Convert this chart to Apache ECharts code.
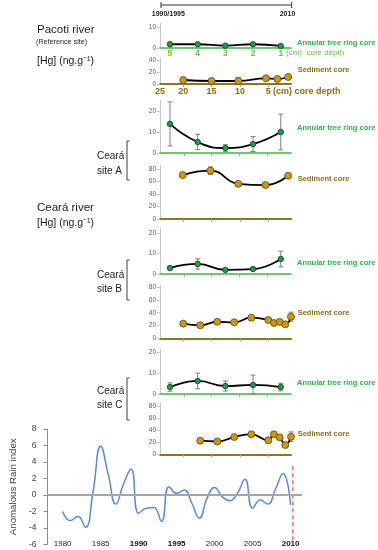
<!DOCTYPE html>
<html><head><meta charset="utf-8">
<script src="https://cdn.jsdelivr.net/npm/echarts@6/dist/echarts.min.js"></script>
<style>html,body{margin:0;padding:0;background:#fff}#c{width:378px;height:550px}</style>
</head><body><div id="c"></div>
<script>
// ---------- DATA ----------
const treeDepth = [5, 4, 3, 2, 1];                 // annular tree ring core depth (cm)
const treeDepthTicks = [5, 4, 3, 2, 1];
const sedDepthTicks = [25, 20, 15, 10, 5];          // sediment core depth (cm)

const pacotiTreeHg = [1.8, 1.8, 1.1, 1.8, 1.0];
const pacotiSedDepth = [20, 15, 10.3, 5.4, 3.4, 1.5];
const pacotiSedHg = [6.6, 5, 5, 9.4, 8.3, 11.6];
const pacotiSedErr = [0, 0, 6, 0, 0, 0];

const siteATreeHg = [14, 5.3, 2.4, 4.3, 10.1];
const siteATreeErr = [10.6, 3.7, 1.6, 3.6, 8.6];
const siteASedDepth = [20.1, 15.2, 10.3, 5.5, 1.5];
const siteASedHg = [70, 77, 56, 54, 69];
const siteASedErr = [0, 6, 0, 0, 0];

const siteBTreeHg = [2.9, 4.9, 2.0, 2.4, 7.3];
const siteBTreeErr = [0.3, 2.5, 0.3, 0.3, 3.8];
const siteBSedDepth = [20, 17, 14, 11, 8, 5, 4, 3, 2, 1];
const siteBSedHg = [23, 20.5, 26, 25.1, 32.3, 28.7, 24, 25.6, 22, 33.8];
const siteBSedErr = [0, 0, 0, 0, 0, 0, 0, 0, 0, 7];

const siteCTreeHg = [3.3, 6.2, 3.8, 4.3, 3.3];
const siteCTreeErr = [2, 3.7, 2.4, 4.7, 1.8];
const siteCSedDepth = [17, 14, 11, 8, 5, 4, 3, 2, 1];
const siteCSedHg = [22.5, 21.2, 28.6, 33.1, 23.2, 33.1, 28.1, 15.4, 29.1];
const siteCSedErr = [0, 0, 0, 0, 0, 0, 0, 0, 8];

const rainYears = [1980,1981,1982,1983,1984,1985,1986,1987,1988,1989,1990,1991,1992,1993,1994,1995,
                   1996,1997,1998,1999,2000,2001,2002,2003,2004,2005,2006,2007,2008,2009,2010];
const rainIndex = [-2.0,-3.1,-2.6,-3.9,0.4,5.9,2.5,-1.1,1.3,3.15,-2.2,-1.6,-1.5,-3.2,1.0,0.2,
                   0.6,-1.0,-2.8,-0.4,0.9,-0.2,-0.7,0.2,1.9,-1.6,-0.6,-1.1,0.7,2.6,-1.2];
const rainYearTicks = [1980, 1985, 1990, 1995, 2000, 2005, 2010];
const rainBoldYears = [1990, 1995, 2010];
const rainYTicks = [-6, -4, -2, 0, 2, 4, 6, 8];
const rainMarkYear = 2010.3;
const rainMarkRange = [3.5, -5.6];

// ---------- STYLE ----------
const FONT = "'Liberation Sans', Arial, sans-serif";
const GREEN_TXT = '#2bb24c', LGREEN = '#6dbd45', BROWN = '#8c6b12', BROWN_AX = '#8c7526', GREEN_AX = '#3db54a';
const X0 = 160, XW = 131;

const panels = [
  {kind:'tree', top:23,  h:25,   ymax:12,   yl:[0,10],            x:treeDepth, y:pacotiTreeHg, err:null, labels:true},
  {kind:'sed',  top:58,  h:26,   ymax:43,   yl:[0,20,40],         x:pacotiSedDepth, y:pacotiSedHg, err:pacotiSedErr, labels:true},
  {kind:'tree', top:100, h:53,   ymax:25.5, yl:[0,10,20],         x:treeDepth, y:siteATreeHg, err:siteATreeErr},
  {kind:'sed',  top:165, h:54,   ymax:86,   yl:[0,20,40,60,80],   x:siteASedDepth, y:siteASedHg, err:siteASedErr},
  {kind:'tree', top:228, h:46,   ymax:22.4, yl:[0,10,20],         x:treeDepth, y:siteBTreeHg, err:siteBTreeErr},
  {kind:'sed',  top:285, h:53.5, ymax:83,   yl:[0,20,40,60,80],   x:siteBSedDepth, y:siteBSedHg, err:siteBSedErr},
  {kind:'tree', top:349, h:45,   ymax:21.4, yl:[0,10,20],         x:treeDepth, y:siteCTreeHg, err:siteCTreeErr},
  {kind:'sed',  top:403, h:51.3, ymax:85,   yl:[0,20,40,60,80],   x:siteCSedDepth, y:siteCSedHg, err:siteCSedErr},
];

const grids = [], xAxes = [], yAxes = [], series = [];

function errSeries(idx, data) {
  return {
    type:'custom', xAxisIndex:idx, yAxisIndex:idx, z:1, silent:true, clip:false,
    data,
    renderItem(params, api) {
      const x = api.value(0), y = api.value(1), e = api.value(2);
      const t = api.coord([x, y + e]), b = api.coord([x, Math.max(0, y - e)]);
      const w = 2.5, st = {stroke:'#7f7f7f', lineWidth:1};
      return {type:'group', children:[
        {type:'line', shape:{x1:t[0], y1:t[1], x2:b[0], y2:b[1]}, style:st},
        {type:'line', shape:{x1:t[0]-w, y1:t[1], x2:t[0]+w, y2:t[1]}, style:st},
        {type:'line', shape:{x1:b[0]-w, y1:b[1], x2:b[0]+w, y2:b[1]}, style:st}
      ]};
    }
  };
}

panels.forEach((p, i) => {
  grids.push({left:X0, top:p.top, width:XW, height:p.h});
  const isTree = p.kind === 'tree';
  const xa = {
    type:'value', gridIndex:i, inverse:true,
    min: isTree ? 0.63 : 1, max: isTree ? 5.36 : 24.1,
    splitLine:{show:false},
    axisLine:{show:true, lineStyle:{color: isTree ? GREEN_AX : BROWN_AX, width: isTree ? 1.6 : 2}},
    axisTick:{show:!p.labels || !isTree, length:3, lineStyle:{color:'#a6a6a6'},
              customValues: isTree ? [4.5,3.5,2.5,1.5] : [20,15,10,5]},
    axisLabel:{show:false}
  };
  if (p.labels && isTree) {
    xa.axisLabel = {show:true, customValues:treeDepthTicks, margin:1, fontSize:8.5, color:LGREEN, fontFamily:FONT, fontWeight:'bold'};
  }
  if (p.labels && !isTree) {
    xa.axisLabel = {show:true, customValues:[24.1,20,15,10,5], margin:3, fontSize:9, color:BROWN, fontFamily:FONT, fontWeight:'bold',
      formatter: v => v > 24 ? String(sedDepthTicks[0]) : String(v)};
  }
  xAxes.push(xa);
  yAxes.push({
    type:'value', gridIndex:i, min:0, max:p.ymax,
    splitLine:{show:false},
    axisLine:{show:true, lineStyle:{color:'#c8c8c8', width:1}},
    axisTick:{show:true, length:3, customValues:p.yl, lineStyle:{color:'#c8c8c8'}},
    axisLabel:{customValues:p.yl, fontSize:6.5, color:'#595959', margin:4, fontFamily:FONT}
  });
  series.push({
    type:'line', xAxisIndex:i, yAxisIndex:i, smooth:0.5, z:3, silent:true,
    data: p.x.map((d, k) => [d, p.y[k]]),
    symbol:'circle', symbolSize: isTree ? 5.5 : 7,
    itemStyle: isTree ? {color:'#1f9e48', borderColor:'#0b3b1a', borderWidth:0.8}
                      : {color:'#c99a10', borderColor:'#5c4705', borderWidth:0.8},
    lineStyle:{color:'#000', width:1.8}
  });
  if (p.err) {
    series.push(errSeries(i, p.x.map((d, k) => [d, p.y[k], p.err[k]]).filter(r => r[2] > 0)));
  }
});

// rain chart
const R = panels.length;
grids.push({left:40, top:429, width:262, height:115.5});
xAxes.push({
  type:'value', gridIndex:R, min:1978, max:2011.5,
  splitLine:{show:false},
  axisLine:{show:false, onZero:false}, axisTick:{show:false},
  axisLabel:{customValues:rainYearTicks, margin:-5, fontSize:8, color:'#262626', fontFamily:FONT,
    formatter: v => rainBoldYears.includes(v) ? '{b|' + v + '}' : String(v),
    rich:{b:{fontWeight:'bold', fontSize:8, color:'#111', fontFamily:FONT}}}
});
yAxes.push({
  type:'value', gridIndex:R, min:-6, max:8, interval:2,
  splitLine:{show:false},
  axisLine:{show:true, lineStyle:{color:'#8c8c8c', width:1}},
  axisTick:{show:true, length:4, lineStyle:{color:'#8c8c8c'}},
  axisLabel:{customValues:rainYTicks, fontSize:8.5, color:'#404040', margin:11, fontFamily:FONT},
  name:'Anomalous Rain index', nameLocation:'middle', nameGap:26,
  nameTextStyle:{fontSize:9.7, color:'#404040', fontFamily:FONT}
});
series.push({
  type:'line', xAxisIndex:R, yAxisIndex:R, smooth:0.5, showSymbol:false, silent:true, z:2,
  data: rainYears.map((y, k) => [y, rainIndex[k]]),
  lineStyle:{color:'#5b8ad0', width:1.5},
  markLine:{
    silent:true, symbol:'none', label:{show:false}, animation:false,
    data:[ {yAxis:0, lineStyle:{color:'#a6a6a6', width:2, type:'solid'}} ]
  }
});
series.push({
  type:'line', xAxisIndex:R, yAxisIndex:R, showSymbol:false, silent:true, z:4,
  data: rainMarkRange.map(v => [rainMarkYear, v]),
  lineStyle:{color:'#e8423f', width:1.2, type:[4,3]}
});

// ---------- ANNOTATIONS ----------
function txt(x, y, text, size, color, weight, align) {
  return {type:'text', x, y, silent:true,
    style:{text, fontSize:size, fontFamily:FONT, fill:color, fontWeight:weight || 'normal',
           align: align || 'left', verticalAlign:'middle'}};
}
function poly(points, color) {
  return {type:'polyline', silent:true, shape:{points}, style:{stroke:color || '#404040', lineWidth:1, fill:null}};
}
const graphic = [
  poly([[161,5],[291.7,5]], '#333'),
  poly([[161,2],[161,8]], '#333'),
  poly([[291.7,2],[291.7,8]], '#333'),
  txt(168.3, 14, '1990/1995', 7, '#222', 'bold', 'center'),
  txt(287.5, 14, '2010', 7, '#222', 'bold', 'center'),

  txt(37, 29.5, 'Pacoti river', 11.5, '#1a1a1a'),
  txt(36, 41.7, '(Reference site)', 7.2, '#1a1a1a'),
  txt(37, 61, '[Hg] (ng.g\u207B\u00B9)', 10.5, '#1a1a1a'),
  txt(37, 207.7, 'Ceará river', 11.5, '#1a1a1a'),
  txt(37, 223.3, '[Hg] (ng.g\u207B\u00B9)', 10.5, '#1a1a1a'),

  txt(97, 156.7, 'Ceará', 10, '#1a1a1a'), txt(97, 171, 'site A', 10, '#1a1a1a'),
  txt(97, 275.5, 'Ceará', 10, '#1a1a1a'), txt(97, 289, 'site B', 10, '#1a1a1a'),
  txt(97, 391, 'Ceará', 10, '#1a1a1a'), txt(97, 405.7, 'site C', 10, '#1a1a1a'),
  poly([[129.5,141],[127,141],[127,180],[129.5,180]]),
  poly([[129.5,260],[127,260],[127,300],[129.5,300]]),
  poly([[129.5,378],[127,378],[127,420],[129.5,420]]),

  txt(286, 52.7, '(cm)  core depth', 8, LGREEN, 'normal'),
  txt(273, 91.7, '(cm) core depth', 9, BROWN, 'bold'),
];
[43.3, 128.3, 263.3, 383.3].forEach(y => graphic.push(txt(297, y, 'Annular tree ring core', 7.5, GREEN_TXT, 'bold')));
[70, 179, 312.7, 434.3].forEach(y => graphic.push(txt(297.7, y, 'Sediment core', 7.5, BROWN, 'bold')));

const chart = echarts.init(document.getElementById('c'), null, {renderer:'canvas'});
chart.setOption({
  animation:false, backgroundColor:'#fff',
  textStyle:{fontFamily:FONT},
  grid:grids, xAxis:xAxes, yAxis:yAxes, series, graphic
});
</script></body></html>
